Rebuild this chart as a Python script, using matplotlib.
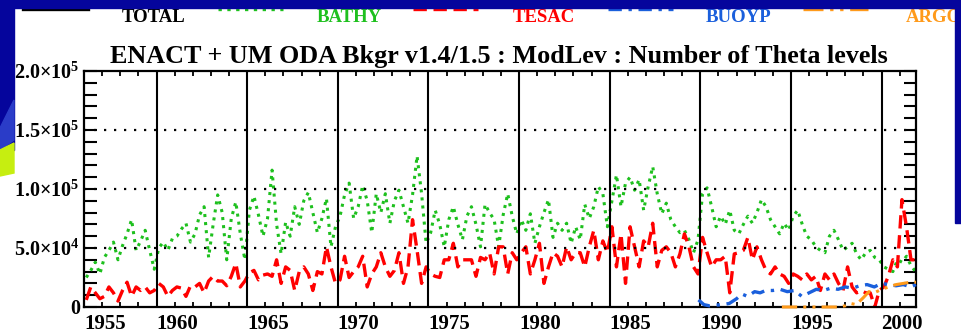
import numpy as np
import matplotlib
matplotlib.use("Agg")
import matplotlib.pyplot as plt
from matplotlib.patches import Rectangle, Polygon
from matplotlib.lines import Line2D

plt.rcParams['font.family'] = 'Liberation Serif'
plt.rcParams['font.weight'] = 'bold'
plt.rcParams['mathtext.fontset'] = 'custom'
plt.rcParams['mathtext.rm'] = 'Liberation Serif:bold'
plt.rcParams['mathtext.bf'] = 'Liberation Serif:bold'
plt.rcParams['mathtext.it'] = 'Liberation Serif:bold:italic'

# ---- data (counts in thousands, 4 samples per year) ----
years = np.arange(1956, 2002)
quarter_offsets = [0.125, 0.375, 0.625, 0.875]

bathy_k = [
    25, 31, 38, 28,   42, 48, 55, 40,   52, 62, 74, 48,   56, 65, 48, 32,   # 1956-59
    50, 55, 48, 58,   60, 66, 71, 55,   62, 78, 85, 42,   70, 95, 80, 40,   # 1960-63
    75, 89, 62, 40,   82, 94, 78, 60,   75, 116, 70, 45,  72, 60, 85, 70,   # 1964-67
    90, 97, 80, 63,   75, 92, 51, 68,   77, 95, 105, 75,  85, 103, 90, 63,  # 1968-71
    96, 80, 96, 71,   90, 99, 85, 71,   95, 128, 96, 54,  63, 82, 70, 51,   # 1972-75
    74, 85, 70, 57,   77, 85, 70, 51,   87, 80, 74, 51,   78, 96, 77, 62,   # 1976-79
    74, 65, 79, 54,   68, 80, 91, 59,   71, 65, 71, 54,   68, 57, 87, 75,   # 1980-83
    85, 102, 96, 68,  90, 112, 85, 105, 110, 99, 108, 82, 102, 119, 96, 79, # 1984-87
    88, 74, 68, 63,   65, 57, 46, 57,   96, 101, 85, 68,  77, 70, 82, 65,   # 1988-91
    62, 70, 77, 71,   80, 91, 85, 74,   68, 62, 71, 65,   77, 82, 70, 60,   # 1992-95
    57, 51, 48, 46,   60, 65, 57, 48,   51, 54, 45, 40,   46, 48, 42, 40,   # 1996-99
    34, 32, 30, 40,   38, 43, 35, 30,                                         # 2000-01
]

tesac_k = [
    6, 17, 12, 7,     9, 17, 12, 5,     14, 21, 9, 17,    14, 17, 12, 14,   # 1956-59
    20, 17, 9, 14,    17, 16, 9, 18,    17, 20, 12, 22,   26, 22, 22, 18,   # 1960-63
    26, 37, 17, 22,   29, 31, 23, 27,   28, 26, 40, 20,   34, 31, 14, 30,   # 1964-67
    34, 28, 14, 30,   28, 51, 34, 20,   23, 43, 25, 30,   34, 43, 17, 28,   # 1968-71
    34, 46, 34, 26,   31, 46, 20, 34,   74, 48, 20, 34,   28, 26, 25, 40,   # 1972-75
    40, 54, 34, 40,   40, 40, 26, 42,   40, 46, 28, 51,   51, 28, 46, 40,   # 1976-79
    46, 51, 28, 40,   54, 20, 34, 46,   43, 34, 51, 40,   46, 46, 34, 51,   # 1980-83
    65, 40, 56, 46,   68, 34, 62, 20,   68, 51, 34, 56,   51, 71, 34, 48,   # 1984-87
    51, 46, 34, 45,   62, 51, 34, 28,   59, 46, 34, 40,   40, 43, 12, 45,   # 1988-91
    46, 48, 59, 40,   51, 40, 31, 28,   34, 28, 26, 20,   28, 26, 23, 28,   # 1992-95
    23, 26, 14, 28,   23, 28, 20, 14,   34, 17, 12, 14,   12, 12, 0, 14,    # 1996-99
    17, 26, 40, 34,   91, 68, 40, 40,                                         # 2000-01
]

buoyp_t = [1989.9, 1990.2, 1990.5, 1990.8, 1991.2, 1991.6, 1992.0, 1992.3, 1992.6,
           1993.0, 1993.3, 1993.6, 1994.0, 1994.4, 1994.8, 1995.2, 1995.6, 1996.0,
           1996.4, 1996.8, 1997.2, 1997.6, 1998.0, 1998.4, 1998.8, 1999.2, 1999.6,
           2000.0, 2000.4, 2000.8, 2001.2, 2001.6, 2001.9]
buoyp_k = [6, 2, 1, 1.5, 2, 3, 7, 11, 9,
           13, 12, 14, 14, 15, 13, 14, 9, 12,
           15, 14, 16, 15, 17, 16, 18, 19, 17,
           20, 19, 18, 19, 17, 19]

argo_t = [1994.5, 1995.0, 1996.0, 1997.0, 1997.6, 1998.0, 1998.3, 1998.6, 1999.0,
          1999.3, 1999.6, 2000.0, 2000.4, 2000.8, 2001.2, 2001.6, 2001.9]
argo_k = [0, 0, 0, 0, 0, 1, 3, 2, 8,
          13, 12, 15, 17, 19, 20, 21, 21]

line_years = [1960, 1965, 1970, 1975, 1980, 1985, 1990, 1995, 2000]
xtick_pos = [1956, 1960, 1965, 1970, 1975, 1980, 1985, 1990, 1995, 2000]
xtick_labels = ['1955', '1960', '1965', '1970', '1975', '1980', '1985', '1990', '1995', '2000']
ytick_vals = [0, 50000, 100000, 150000, 200000]
ytick_labels = ['0', r'5.0×10$^{4}$', r'1.0×10$^{5}$', r'1.5×10$^{5}$', r'2.0×10$^{5}$']

legend_names = ['TOTAL', 'BATHY', 'TESAC', 'BUOYP', 'ARGO']
legend_colors = ['black', '#1ec01e', '#ff0000', '#1a5fdc', '#ff9a1a']
legend_styles = ['-', ':', (0, (4, 2)), (0, (4, 2, 1, 2)), (0, (6, 2, 1, 2, 1, 2))]

W, H = 962, 334
def fx(x): return x / W
def fy(y): return 1 - y / H

fig = plt.figure(figsize=(W / 100, H / 100), dpi=100)
fig.patch.set_facecolor('white')

# slide background bits
blue = '#05059c'
fig.add_artist(Rectangle((0, fy(8)), 1, 8 / H, transform=fig.transFigure, color=blue, zorder=10))
fig.add_artist(Rectangle((fx(955), fy(223)), 7 / W, 223 / H, transform=fig.transFigure, color=blue, zorder=10))
fig.add_artist(Rectangle((0, fy(150)), fx(14), 150 / H, transform=fig.transFigure, color=blue, zorder=10))
fig.add_artist(Polygon([(0, fy(128)), (fx(14), fy(100)), (fx(14), fy(140)), (0, fy(150))],
                       closed=True, transform=fig.transFigure, color='#2a3cc8', zorder=10))
fig.add_artist(Polygon([(0, fy(150)), (fx(14), fy(143)), (fx(14), fy(173)), (0, fy(176))],
                       closed=True, transform=fig.transFigure, color='#c6ee10', zorder=10))

ax = fig.add_axes([fx(84), fy(307), fx(916) - fx(84), (307 - 71) / H])

tq = (years[:, None] + np.array(quarter_offsets)[None, :]).ravel()
ax.plot(tq, np.array(bathy_k) * 1000, color=legend_colors[1], ls=':', lw=2.2)
ax.plot(tq, np.array(tesac_k) * 1000, color=legend_colors[2], ls=(0, (4, 2)), lw=2.4)
ax.plot(buoyp_t, np.array(buoyp_k) * 1000, color=legend_colors[3], ls=(0, (4, 2, 1, 2)),
        lw=2.4, zorder=4, clip_on=False)
ax.plot(argo_t, np.array(argo_k) * 1000, color=legend_colors[4], ls=(0, (5, 2, 1, 2, 1, 2)),
        lw=2.2, zorder=4, clip_on=False)

for yr in line_years:
    ax.axvline(yr, color='black', lw=1.5, zorder=3)
for v in ytick_vals[1:-1]:
    ax.axhline(v, color='black', lw=1.6, ls=(0, (1, 3.5)), zorder=3)

ax.set_xlim(1956, 2001.9)
ax.set_ylim(0, 200000)

ax.set_xticks(xtick_pos)
ax.set_xticklabels(xtick_labels, ha='left', fontsize=15)
ax.set_xticks(np.arange(1957, 2002), minor=True)
ax.tick_params(axis='x', which='major', length=0, pad=5)
ax.tick_params(axis='x', which='minor', direction='in', length=3.5, width=1.3, top=True, bottom=True)

ax.set_yticks(ytick_vals)
ax.set_yticklabels(ytick_labels, fontsize=14.5)
ax.set_yticks(np.arange(0, 200001, 10000), minor=True)
ax.tick_params(axis='y', which='both', direction='in', length=9, width=1.5,
               left=True, right=True, pad=3)

for s in ax.spines.values():
    s.set_linewidth(1.6)

fig.text(fx(499), fy(57), 'ENACT + UM ODA Bkgr v1.4/1.5 : ModLev : Number of Theta levels',
         ha='center', va='center', fontsize=18.8, fontweight='bold')

# legend row
for i, (name, col, ls) in enumerate(zip(legend_names, legend_colors, legend_styles)):
    x0 = 23 + 195 * i
    fig.add_artist(Line2D([fx(x0), fx(x0 + 65)], [fy(9), fy(9)], transform=fig.transFigure,
                          color=col, ls=ls, lw=2.4, zorder=5))
    fig.text(fx(154 + 195 * i), fy(17), name, ha='center', va='center',
             fontsize=13.5, fontweight='bold', color=col, zorder=5)

fig.savefig('out.png', dpi=100)
